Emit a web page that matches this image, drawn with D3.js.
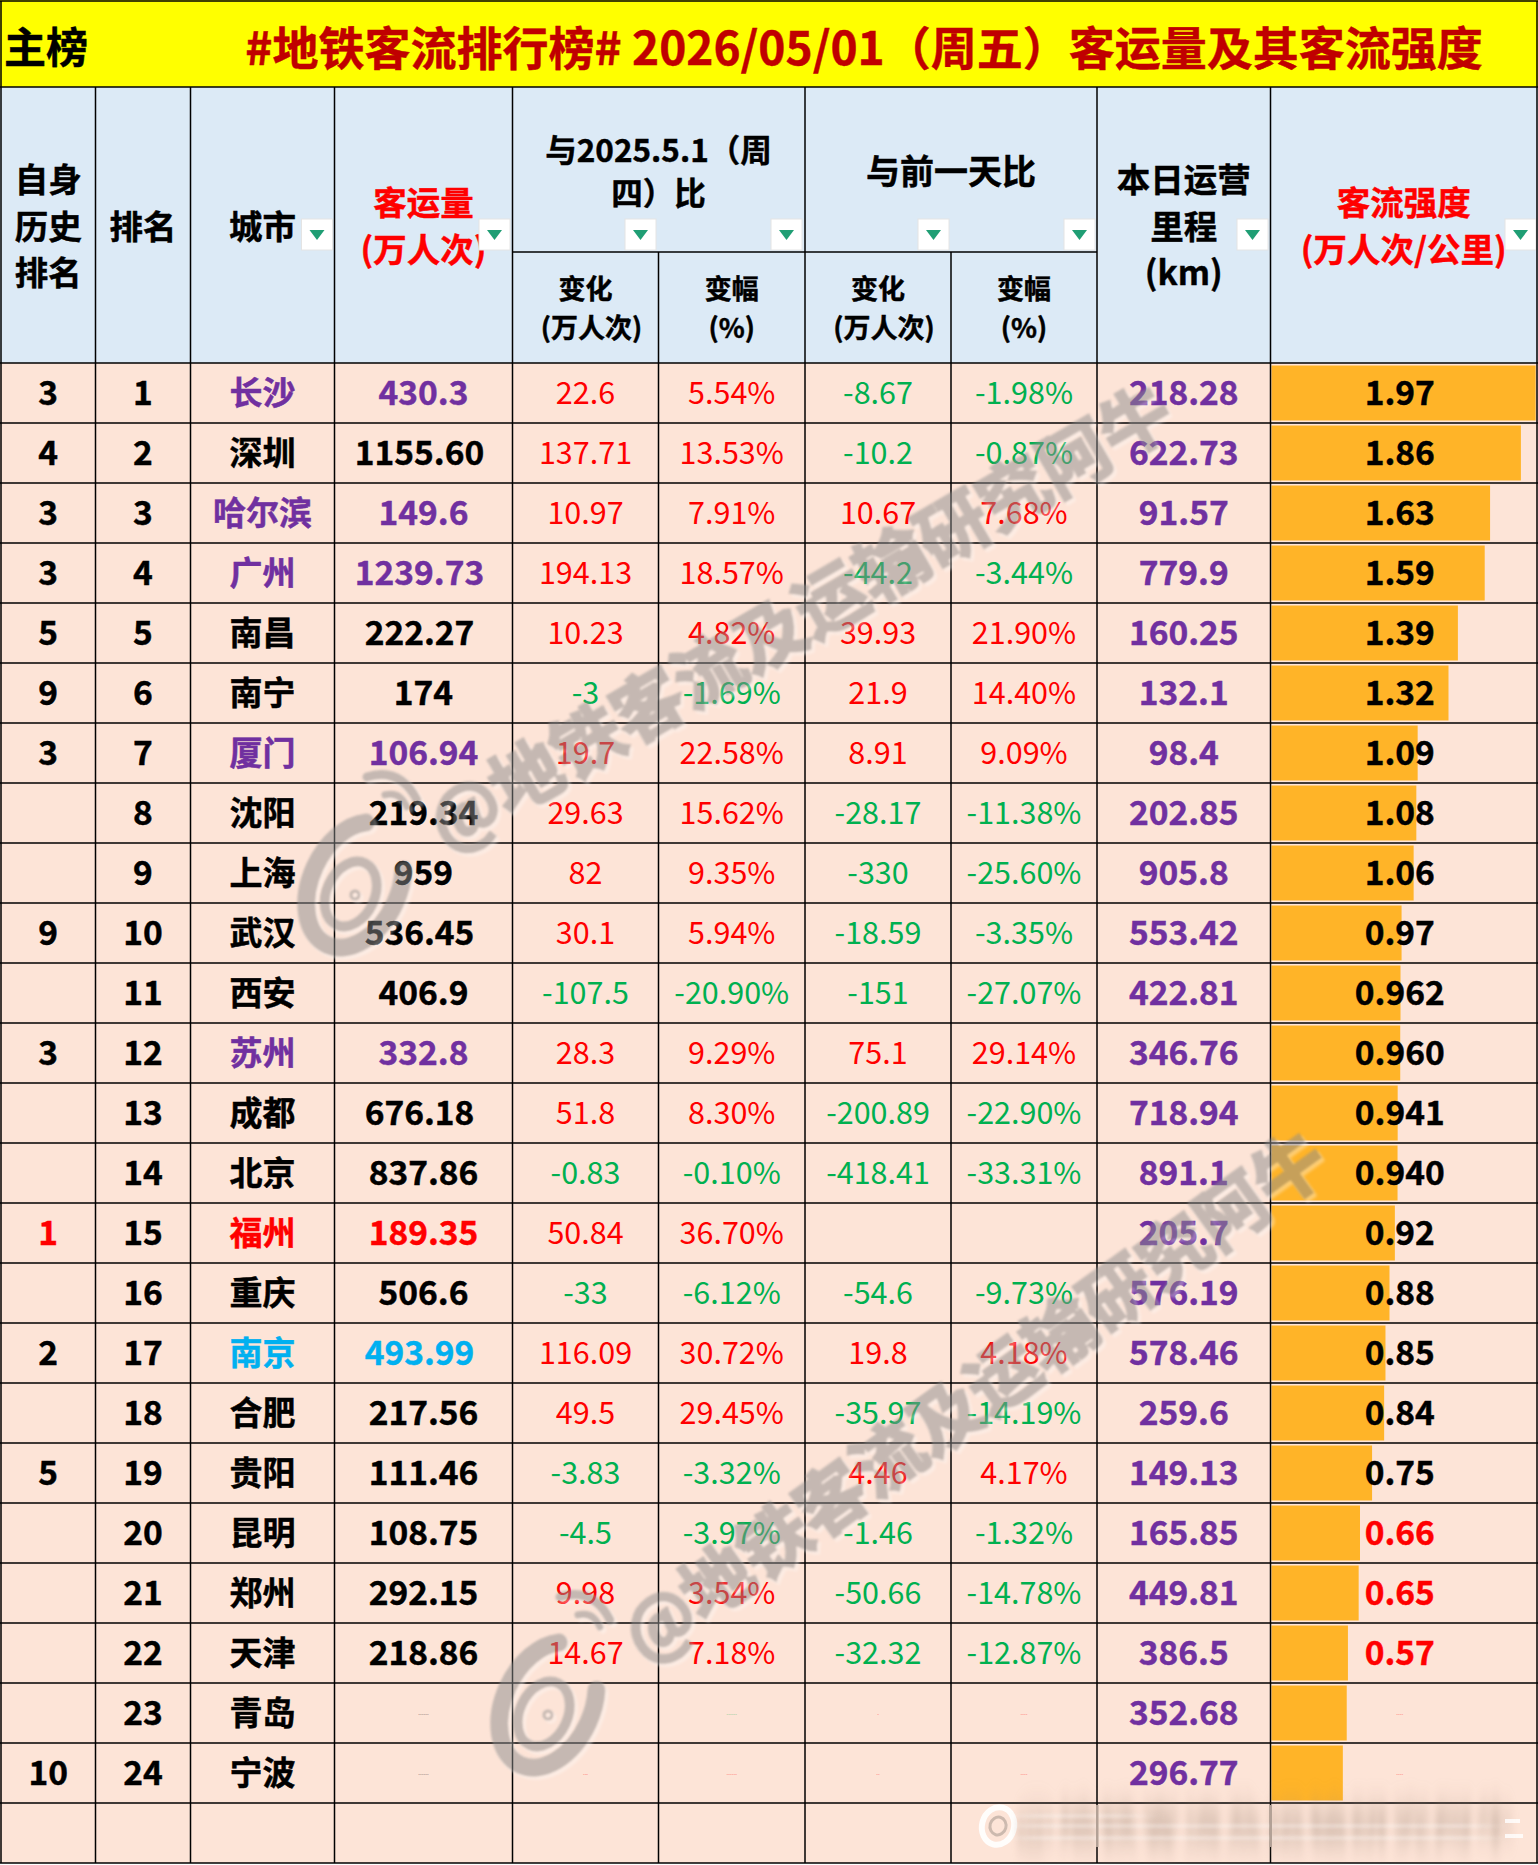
<!DOCTYPE html>
<html>
<head>
<meta charset="utf-8">
<title>地铁客流排行榜</title>
<script src="https://cdn.jsdelivr.net/npm/d3@7"></script>
<style>
  body { margin: 0; background: #fff; }
  svg { display: block; }
  text { font-family: "Noto Sans CJK SC", "Noto Sans", sans-serif; text-anchor: middle; dominant-baseline: central; }
  .b { font-weight: 700; stroke: currentColor; stroke-width: 0.45px; }
</style>
</head>
<body>
<div id="chart"></div>
<script>
// table contents
var historyRank = ["3","4","3","3","5","9","3","","","9","","3","","","1","","2","","5","","","","","10"];
var ranks = ["1","2","3","4","5","6","7","8","9","10","11","12","13","14","15","16","17","18","19","20","21","22","23","24"];
var cities = ["长沙","深圳","哈尔滨","广州","南昌","南宁","厦门","沈阳","上海","武汉","西安","苏州","成都","北京","福州","重庆","南京","合肥","贵阳","昆明","郑州","天津","青岛","宁波"];
var ridership = ["430.3","1155.60","149.6","1239.73","222.27","174","106.94","219.34","959","536.45","406.9","332.8","676.18","837.86","189.35","506.6","493.99","217.56","111.46","108.75","292.15","218.86","------","------"];
var yoyChange = ["22.6","137.71","10.97","194.13","10.23","-3","19.7","29.63","82","30.1","-107.5","28.3","51.8","-0.83","50.84","-33","116.09","49.5","-3.83","-4.5","9.98","14.67","","---"];
var yoyPct = ["5.54%","13.53%","7.91%","18.57%","4.82%","-1.69%","22.58%","15.62%","9.35%","5.94%","-20.90%","9.29%","8.30%","-0.10%","36.70%","-6.12%","30.72%","29.45%","-3.32%","-3.97%","3.54%","7.18%","------","------"];
var dodChange = ["-8.67","-10.2","10.67","-44.2","39.93","21.9","8.91","-28.17","-330","-18.59","-151","75.1","-200.89","-418.41","","-54.6","19.8","-35.97","4.46","-1.46","-50.66","-32.32","-","--"];
var dodPct = ["-1.98%","-0.87%","7.68%","-3.44%","21.90%","14.40%","9.09%","-11.38%","-25.60%","-3.35%","-27.07%","29.14%","-22.90%","-33.31%","","-9.73%","4.18%","-14.19%","4.17%","-1.32%","-14.78%","-12.87%","----","----"];
var mileage = ["218.28","622.73","91.57","779.9","160.25","132.1","98.4","202.85","905.8","553.42","422.81","346.76","718.94","891.1","205.7","576.19","578.46","259.6","149.13","165.85","449.81","386.5","352.68","296.77"];
var intensityLabels = ["1.97","1.86","1.63","1.59","1.39","1.32","1.09","1.08","1.06","0.97","0.962","0.960","0.941","0.940","0.92","0.88","0.85","0.84","0.75","0.66","0.65","0.57","----","----"];
var intensityBars = [1.97,1.86,1.63,1.59,1.39,1.32,1.09,1.08,1.06,0.97,0.962,0.960,0.941,0.940,0.92,0.88,0.85,0.84,0.75,0.66,0.65,0.57,0.561,0.532];
var purpleCities = ["长沙","哈尔滨","广州","厦门","苏州"];
var lowIntensity = ["0.66","0.65","0.57"];
var offCentre = ["1155.60","1239.73","222.27","536.45","676.18","493.99"];
var watermarkText = "@地铁客流及运输研究阿牛";

var W = 1538, H = 1865;
var colors = {title:"#ffff00", titleText:"#c00000", head:"#dceaf6", row:"#fde4d7", bar:"#ffb428",
    red:"#ff0000", green:"#00b050", purple:"#7030a0", blue:"#00b0f0", arrow:"#1f9e74"};

// layout
var edges = [1, 95.5, 190.5, 334.5, 512.5, 658.5, 805, 951, 1097, 1270.5, 1537];
var titleY = 87, subY = 252, headY = 363, bottomY = 1863;
var lift = 2.5; // central baseline of the font sits low

var y = d3.scaleBand().domain(d3.range(ranks.length + 1)).range([headY, bottomY]);
var x = d3.scaleLinear().domain([0, 1.98]).range([edges[9] + 1, edges[10]]);
function colMid(i) { return (edges[i] + edges[i+1]) / 2; }

var svg = d3.select("#chart").append("svg").attr("width", W).attr("height", H);
var defs = svg.append("defs");
var f = defs.append("filter").attr("id", "emboss").attr("x", "-10%").attr("y", "-10%").attr("width", "120%").attr("height", "120%");
f.append("feGaussianBlur").attr("in", "SourceAlpha").attr("stdDeviation", 1.5).attr("result", "blur");
f.append("feOffset").attr("in", "blur").attr("dx", 3).attr("dy", 3).attr("result", "off");
f.append("feFlood").attr("flood-color", "#fff").attr("flood-opacity", 0.7);
f.append("feComposite").attr("in2", "off").attr("operator", "in").attr("result", "light");
f.append("feGaussianBlur").attr("in", "SourceGraphic").attr("stdDeviation", 1.3).attr("result", "soft");
var fm = f.append("feMerge");
fm.append("feMergeNode").attr("in", "light");
fm.append("feMergeNode").attr("in", "soft");
defs.append("filter").attr("id", "smearV").attr("x", "-5%").attr("y", "-60%").attr("width", "110%").attr("height", "220%")
    .append("feGaussianBlur").attr("stdDeviation", "3 14");
defs.append("filter").attr("id", "smearH").attr("x", "-20%").attr("y", "-60%").attr("width", "140%").attr("height", "220%")
    .append("feGaussianBlur").attr("stdDeviation", "14 1.5");

function label(g, xp, yp, str, size, color, bold) {
    return g.append("text").attr("x", xp).attr("y", yp - lift).attr("font-size", size)
        .attr("fill", color || "#000").style("color", color || "#000")
        .attr("class", bold ? "b" : null).text(str);
}

// backgrounds
svg.append("rect").attr("x", 0).attr("y", 0).attr("width", W).attr("height", titleY).attr("fill", colors.title);
svg.append("rect").attr("x", 0).attr("y", titleY).attr("width", W).attr("height", headY - titleY).attr("fill", colors.head);
svg.append("rect").attr("x", 0).attr("y", headY).attr("width", W).attr("height", bottomY - headY).attr("fill", colors.row);

// title
label(svg, 46, 47, "主榜", 42, "#000", true);
label(svg, 864, 47, "#地铁客流排行榜# 2026/05/01（周五）客运量及其客流强度", 46, colors.titleText, true);

// data bars
svg.append("g").selectAll("rect").data(intensityBars).join("rect")
    .attr("x", x(0)).attr("y", function(d, i) { return y(i) + 2.5; })
    .attr("width", function(d) { return x(d) - x(0); })
    .attr("height", y.bandwidth() - 5)
    .attr("fill", colors.bar);

// header text
var head = svg.append("g");
function headLines(xp, ys, lines, size, color) {
    lines.forEach(function(s, i) { label(head, xp, ys[i], s, size, color, true); });
}
headLines(colMid(0), [180, 227, 273], ["自身","历史","排名"], 33.5);
headLines(colMid(1), [227], ["排名"], 33.5);
headLines(colMid(2), [227], ["城市"], 33.5);
headLines(colMid(3), [203, 250], ["客运量","(万人次)"], 33.5, colors.red);
headLines(edges[5], [150, 193], ["与2025.5.1（周","四）比"], 31.5);
headLines(edges[7], [172], ["与前一天比"], 34);
headLines(colMid(4), [290], ["变化"], 27);
headLines(colMid(4) + 6, [329], ["(万人次)"], 27);
headLines(colMid(5), [290, 329], ["变幅","(%)"], 27);
headLines(colMid(6), [290], ["变化"], 27);
headLines(colMid(6) + 6, [329], ["(万人次)"], 27);
headLines(colMid(7), [290, 329], ["变幅","(%)"], 27);
headLines(colMid(8), [180, 227, 273], ["本日运营","里程","(km)"], 33.5);
headLines(colMid(9), [203, 250], ["客流强度","(万人次/公里)"], 33.5, colors.red);

// filter buttons
var buttons = [301.5, 479, 625, 771, 918, 1064, 1237, 1505];
var btn = svg.append("g").selectAll("g").data(buttons).join("g")
    .attr("transform", function(d) { return "translate(" + d + ",219)"; });
btn.append("rect").attr("width", 31).attr("height", 31).attr("fill", "#fff").attr("stroke", "#e4e4e4");
btn.append("path").attr("d", "M8,11 L23,11 L15.5,21 Z").attr("fill", colors.arrow);

// grid
var grid = svg.append("g").attr("stroke", "#000").attr("stroke-width", 1.5);
function gridLine(x1, y1, x2, y2) {
    grid.append("line").attr("x1", x1).attr("y1", y1).attr("x2", x2).attr("y2", y2);
}
gridLine(0, 1, W, 1);
gridLine(0, titleY, W, titleY);
gridLine(edges[4], subY, edges[8], subY);
d3.range(ranks.length + 2).forEach(function(i) { gridLine(0, headY + i * y.bandwidth(), W, headY + i * y.bandwidth()); });
edges.forEach(function(e, i) {
    var top = (i == 5 || i == 7) ? subY : titleY;
    gridLine(e, top, e, bottomY);
});
gridLine(1, 1, 1, titleY);
gridLine(edges[10], 1, edges[10], titleY);

// body text
function signColor(s) { return s.charAt(0) == "-" ? colors.green : colors.red; }
function cityColor(c) {
    if (purpleCities.indexOf(c) > -1) return colors.purple;
    if (c == "福州") return colors.red;
    if (c == "南京") return colors.blue;
    return "#000";
}
function isMissing(s) { return /^-+$/.test(s); }
var body = svg.append("g");
function missing(xp, i, str, color) {
    label(body, xp, y(i) + y.bandwidth() / 2 + lift, str, 5, color).attr("opacity", 0.7);
}
ranks.forEach(function(r, i) {
    var cy = y(i) + y.bandwidth() / 2, city = cities[i];
    label(body, colMid(0), cy, historyRank[i], 33.5, city == "福州" ? colors.red : "#000", true);
    label(body, colMid(1), cy, r, 33.5, "#000", true);
    label(body, colMid(2), cy, city, 33, cityColor(city), true);
    if (isMissing(ridership[i])) missing(colMid(3), i, ridership[i], "#000");
    else label(body, colMid(3) - (offCentre.indexOf(ridership[i]) > -1 ? 4 : 0), cy, ridership[i], 33.5, cityColor(city), true);
    [yoyChange, yoyPct, dodChange, dodPct].forEach(function(col, k) {
        var v = col[i];
        if (i < 22) label(body, colMid(4 + k), cy, v, 30.5, signColor(v));
        else missing(colMid(4 + k), i, v, (i == 22 && k == 1) ? colors.green : colors.red);
    });
    label(body, colMid(8), cy, mileage[i], 33.5, colors.purple, true);
    var t = intensityLabels[i];
    if (isMissing(t)) missing(colMid(9) - 4, i, t, colors.red);
    else label(body, colMid(9) - 4, cy, t, 33.5, lowIntensity.indexOf(t) > -1 ? colors.red : "#000", true);
});

// diagonal watermarks
function watermark(lx, ly, tx, ty, angle) {
    var g = svg.append("g").attr("filter", "url(#emboss)").attr("opacity", 0.5);
    var logo = g.append("g").attr("transform", "translate(" + lx + "," + ly + ")")
        .attr("fill", "none").attr("stroke", "#8d8d8d").attr("stroke-linecap", "round");
    logo.append("ellipse").attr("rx", 44).attr("ry", 66).attr("stroke-width", 18)
        .attr("transform", "rotate(25)").attr("pathLength", 100)
        .attr("stroke-dasharray", "80 20").attr("stroke-dashoffset", 10);
    logo.append("ellipse").attr("cy", 10).attr("rx", 24).attr("ry", 34).attr("stroke-width", 10)
        .attr("transform", "rotate(25)");
    logo.append("circle").attr("cy", 10).attr("r", 4).attr("stroke-width", 3);
    logo.append("path").attr("d", "M12,-108 Q45,-118 62,-85").attr("stroke-width", 9);
    logo.append("path").attr("d", "M30,-90 Q45,-94 52,-78").attr("stroke-width", 7);
    g.append("text").attr("transform", "translate(" + tx + "," + ty + ") rotate(" + angle + ")")
        .attr("class", "b").attr("font-size", 70.5)
        .attr("fill", "#8d8d8d").style("color", "#8d8d8d").style("stroke-width", "3px")
        .style("text-anchor", "start").text(watermarkText);
}
watermark(355, 885, 432, 826, -30.2);
watermark(548, 1705, 628, 1640, -35.8);

// weibo stamp, blurred out in the last row
var stamp = svg.append("g");
var st = stamp.append("g").attr("transform", "translate(998,1826) rotate(15)").attr("fill", "none").attr("stroke", "#fff");
st.append("ellipse").attr("rx", 16).attr("ry", 19).attr("stroke-width", 6).attr("stroke-opacity", 0.9);
st.append("ellipse").attr("rx", 8).attr("ry", 9).attr("stroke", "#ccb9ae").attr("stroke-width", 3);
stamp.append("text").attr("x", 1265).attr("y", 1824).attr("font-size", 40).attr("class", "b")
    .attr("fill", "#a08878").style("color", "#a08878").attr("opacity", 0.5).attr("filter", "url(#smearV)")
    .attr("textLength", 500).text(watermarkText);
[1814, 1824, 1836].forEach(function(yp, i) {
    stamp.append("rect").attr("x", 1020).attr("y", yp).attr("width", i == 0 ? 120 : 470).attr("height", 4)
        .attr("fill", "#fff").attr("opacity", 0.3).attr("filter", "url(#smearH)");
});
[edges[8], edges[9]].forEach(function(e) {
    stamp.append("rect").attr("x", e - 1).attr("y", 1805).attr("width", 2.5).attr("height", 42).attr("fill", "#b3a196");
});
stamp.append("rect").attr("x", 1505).attr("y", 1819).attr("width", 15).attr("height", 4).attr("fill", "#fff").attr("opacity", 0.8);
stamp.append("rect").attr("x", 1505).attr("y", 1834).attr("width", 18).attr("height", 4).attr("fill", "#fff").attr("opacity", 0.8);
</script>
</body>
</html>
